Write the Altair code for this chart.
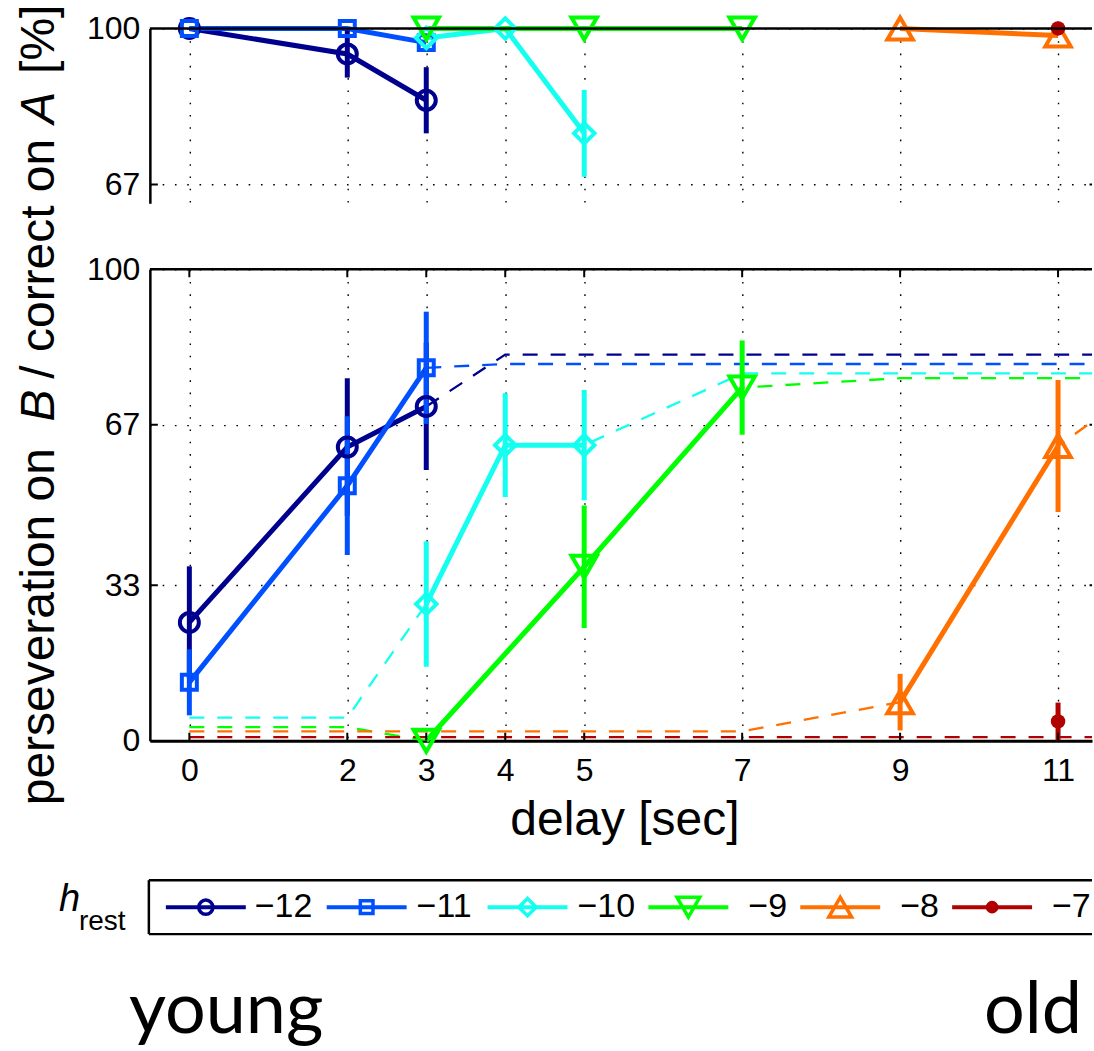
import altair as alt
import pandas as pd

FONT = "Liberation Sans"

# ---------------- data ----------------
series = ["−12", "−11", "−10", "−9", "−8", "−7"]
delay_ticks = [0, 2, 3, 4, 5, 7, 9, 11]

# upper panel: correct on A [%]
top_delay = [[0, 2, 3], [0, 2, 3], [3, 4, 5], [3, 5, 7], [9, 11], [11]]
top_value = [[100, 94.6, 84.8], [100, 100, 97], [98, 100, 77.8], [100, 100, 100], [100, 98.5], [100]]
top_err = [[0, 5, 7], [0, 0, 0], [0, 0, 9.2], [0, 0, 0], [0, 0], [0]]

# lower panel: perseveration on B [%]
bottom_delay = [[0, 2, 3], [0, 2, 3], [3, 4, 5], [3, 5, 7], [9, 11], [11]]
bottom_value = [[25.1, 62.3, 70.9], [12.4, 54.1, 79.1], [29.0, 62.7, 62.7], [0, 36.9, 74.9], [8.2, 62.5], [4.1]]
bottom_err = [[11.9, 14.6, 13.5], [7.0, 14.7, 11.9], [13.3, 11.0, 11.7], [0, 13.0, 10.0], [6.0, 14.0], [4.0]]

# model curves (dashed)
fit_delay = [[3, 4, 12], [3, 4, 12], [0, 2, 3, 4, 5, 7, 12], [0, 2, 3, 5, 7, 9, 12], [0, 7, 9, 11, 12], [0, 12]]
fit_value = [[70.9, 81.9, 81.9], [79.1, 79.9, 79.9], [4.9, 4.9, 29.0, 62.7, 62.7, 77.9, 77.9],
             [2.9, 2.9, 0, 36.9, 74.9, 76.9, 76.9], [2.0, 2.0, 8.2, 62.5, 74.5], [0.8, 0.8]]

# ---------------- styles ----------------
series_colors = ["#00008f", "#0050ff", "#14ffef", "#00ff00", "#ff7000", "#b00000"]
marker_shapes = ["circle", "square", "diamond", "triangle-down", "triangle-up", "circle"]
marker_sizes = [361, 225, 420, 650, 650, 210]
legend_marker_sizes = [200, 160, 300, 520, 520, 160]
marker_filled = [False, False, False, False, False, True]

# legend layout (pixels, relative to the lower plot's top-left corner)
legend_line_start = [16, 177, 338, 499, 651, 803]
legend_label_x = [105, 267, 428, 599, 751, 903]
LEGEND_Y = 638.5

X_RANGE = [-0.5, 11.43]
WIDTH = 943
TOP_H, BOT_H = 175, 472
TOP_DOM, BOT_DOM = [63, 100], [0, 100]


def points_frame(delays, values, errs):
    rows = []
    for s, ds, vs, es in zip(series, delays, values, errs):
        for d, v, e in zip(ds, vs, es):
            rows.append({"h": s, "delay": d, "value": v, "lo": v - e, "hi": v + e, "err": e})
    return pd.DataFrame(rows)


def fit_frame(delays, values):
    rows = []
    for s, ds, vs in zip(series, delays, values):
        for d, v in zip(ds, vs):
            rows.append({"h": s, "delay": d, "value": v})
    return pd.DataFrame(rows)


top_pts = points_frame(top_delay, top_value, top_err)
bot_pts = points_frame(bottom_delay, bottom_value, bottom_err)
bot_fit = fit_frame(fit_delay, fit_value)

xscale = alt.Scale(domain=X_RANGE, nice=False, zero=False)
cscale = alt.Scale(domain=series, range=series_colors)
C = alt.Color("h:N", scale=cscale, legend=None)

GRID = dict(grid=True, gridColor="black", gridDash=[1.6, 10.7], gridWidth=1.4, gridOpacity=1)


def make_panel(pts, fits, ydom, yvals, height, xaxis, yaxis, extra_layers):
    ys = alt.Scale(domain=ydom, nice=False, zero=False)

    def X(f="delay"):
        return alt.X(f"{f}:Q", scale=xscale, axis=xaxis)

    def Y(f="value"):
        return alt.Y(f"{f}:Q", scale=ys, axis=yaxis)

    layers = []
    if fits is not None:
        layers.append(alt.Chart(fits).mark_line(strokeWidth=2.3, strokeDash=[15, 13], clip=True)
                      .encode(X(), Y(), C))
    layers.append(alt.Chart(pts).mark_line(strokeWidth=5).encode(X(), Y(), C))
    layers.append(alt.Chart(pts).transform_filter("datum.err > 0")
                  .mark_rule(strokeWidth=5).encode(X(), Y("lo"), alt.Y2("hi:Q"), C))
    for s, shp, sz, fl in zip(series, marker_shapes, marker_sizes, marker_filled):
        layers.append(alt.Chart(pts).transform_filter(alt.datum.h == s)
                      .mark_point(shape=shp, size=sz, filled=fl, strokeWidth=4, opacity=1)
                      .encode(X(), Y(), C))
    # frame: top border and inward ticks
    tl_y = 8 * (ydom[1] - ydom[0]) / height
    tl_x = 8 * (X_RANGE[1] - X_RANGE[0]) / WIDTH
    border = pd.DataFrame({"x1": [X_RANGE[0]], "x2": [X_RANGE[1]], "y1": [ydom[1]], "y2": [ydom[1]]})
    layers.append(alt.Chart(border).mark_rule(color="black", strokeWidth=2.5)
                  .encode(X("x1"), alt.X2("x2:Q"), Y("y1"), alt.Y2("y2:Q")))
    inner = [v for v in yvals if ydom[0] < v < ydom[1]]
    trows = []
    for v in inner:
        trows.append({"x1": X_RANGE[0], "x2": X_RANGE[0] + tl_x, "y1": v, "y2": v})
        trows.append({"x1": 11.5 - tl_x, "x2": 11.5, "y1": v, "y2": v})
    if height > 300:
        for d in delay_ticks:
            trows.append({"x1": d, "x2": d, "y1": ydom[1] - tl_y, "y2": ydom[1]})
            trows.append({"x1": d, "x2": d, "y1": ydom[0], "y2": ydom[0] + tl_y})
    layers.append(alt.Chart(pd.DataFrame(trows)).mark_rule(color="black", strokeWidth=2, clip=True)
                  .encode(X("x1"), alt.X2("x2:Q"), Y("y1"), alt.Y2("y2:Q")))
    layers.extend(extra_layers)
    return alt.layer(*layers).properties(width=WIDTH, height=height)


ylab = dict(labelFont=FONT, labelFontSize=32, labelColor="black", labelPadding=10,
            ticks=False, domainColor="black", domainWidth=2.5, title=None, format="d")

top_xaxis = alt.Axis(values=delay_ticks, labels=False, ticks=False, domain=False, title=None, **GRID)
top_yaxis = alt.Axis(values=[67, 100], **ylab, **GRID)
bot_xaxis = alt.Axis(values=delay_ticks, labelFont=FONT, labelFontSize=32, labelColor="black",
                     labelPadding=15, labelFlush=False, ticks=False, domainColor="black", domainWidth=3,
                     title="delay [sec]", titleFont=FONT, titleFontSize=48, titleFontWeight="normal",
                     titleColor="black", titleX=475, titleY=94, titleBaseline="alphabetic", **GRID)
bot_yaxis = alt.Axis(values=[0, 33, 67, 100], **ylab, **GRID)

one = pd.DataFrame({"k": [0]})

# invisible anchor fixing the top-left corner of the figure
anchor = alt.Chart(one).mark_rule(color="white", strokeWidth=1).encode(
    x=alt.value(-148.5), x2=alt.value(-148.5), y=alt.value(-27), y2=alt.value(-26))


def label(text, x, y, size, style="normal", angle=0, align="left", font=FONT, baseline="alphabetic"):
    return alt.Chart(pd.DataFrame({"t": [text]})).mark_text(
        font=font, fontSize=size, fontStyle=style, angle=angle, align=align,
        baseline=baseline, color="black").encode(x=alt.value(x), y=alt.value(y), text="t:N")


def seg(x1, y1, x2, y2, width=2.5):
    return alt.Chart(one).mark_rule(color="black", strokeWidth=width).encode(
        x=alt.value(x1), y=alt.value(y1), x2=alt.value(x2), y2=alt.value(y2))


ytitle = [
    label("perseveration on", -96, 536.5, 48, angle=270),
    label("B", -96, 152.5, 48, style="italic", angle=270),
    label("/ correct on", -96, 109.5, 48, angle=270),
    label("A", -96, -145.5, 48, style="italic", angle=270),
    label("[%]", -96, -195.5, 48, angle=270),
]
notes = [
    label("h", -91, 642.5, 38, style="italic"),
    label("rest", -71, 661.5, 28),
    label("young", -21, 764.5, 72, font="Lato"),
    label("old", 933, 764.5, 72, align="right", font="Lato"),
]

# legend box (its right side lies beyond the figure edge)
legend = [
    seg(-1, 611.5, 943, 611.5),
    seg(-1, 665.5, 943, 665.5),
    seg(-1, 611.5, -1, 665.5),
]
lg = pd.DataFrame({"h": series})
for s, x0, tx, shp, sz, fl in zip(series, legend_line_start, legend_label_x, marker_shapes,
                                    legend_marker_sizes, marker_filled):
    one_s = alt.Chart(lg).transform_filter(alt.datum.h == s)
    legend.append(one_s.mark_rule(strokeWidth=4).encode(
        x=alt.value(x0), x2=alt.value(x0 + 80), y=alt.value(LEGEND_Y), color=C))
    legend.append(one_s.mark_point(shape=shp, size=sz, filled=fl, strokeWidth=3.5, opacity=1).encode(
        x=alt.value(x0 + 40), y=alt.value(LEGEND_Y), color=C))
    legend.append(one_s.mark_text(font=FONT, fontSize=34, align="left", baseline="middle",
                                  color="black").encode(x=alt.value(tx), y=alt.value(LEGEND_Y), text="h:N"))

top = make_panel(top_pts, None, TOP_DOM, [67, 100], TOP_H, top_xaxis, top_yaxis, [anchor])
bottom = make_panel(bot_pts, bot_fit, BOT_DOM, [0, 33, 67, 100], BOT_H, bot_xaxis, bot_yaxis,
                    ytitle + notes + legend)

chart = alt.vconcat(top, bottom, spacing=66, bounds="flush").properties(padding=0).configure_view(
    stroke="transparent")

chart.save("out.html", embed_options={"renderer": "svg", "actions": False})
